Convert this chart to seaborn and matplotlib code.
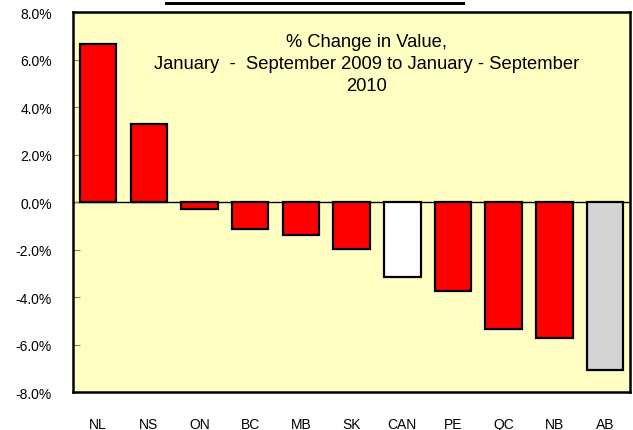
import matplotlib
matplotlib.use("Agg")
import matplotlib.pyplot as plt
import seaborn as sns
import pandas as pd
from matplotlib.patches import Rectangle

provinces = ["NL", "NS", "ON", "BC", "MB", "SK", "CAN", "PE", "QC", "NB", "AB"]
pct_change = [6.65, 3.30, -0.29, -1.12, -1.38, -1.95, -3.15, -3.72, -5.33, -5.70, -7.06]
bar_colors = ["#FF0000", "#FF0000", "#FF0000", "#FF0000", "#FF0000", "#FF0000",
              "#FFFFFF", "#FF0000", "#FF0000", "#FF0000", "#D4D4D4"]
y_ticks = [-8, -6, -4, -2, 0, 2, 4, 6, 8]
y_tick_labels = ["-8.0%", "-6.0%", "-4.0%", "-2.0%", "0.0%", "2.0%", "4.0%", "6.0%", "8.0%"]
chart_text = "% Change in Value,\nJanuary  -  September 2009 to January - September\n2010"

sns.set_theme(style="white")
plt.rcParams["font.family"] = ["Liberation Sans", "DejaVu Sans"]

df = pd.DataFrame({"prov": provinces, "val": pct_change})

fig = plt.figure(figsize=(6.33, 4.31), dpi=100)
ax = fig.add_axes([72.7 / 633, (431 - 393.3) / 431, (630.5 - 72.7) / 633, (393.3 - 13.3) / 431])
ax.set_facecolor("#FFFFC4")

sns.barplot(data=df, x="prov", y="val", hue="prov", palette=bar_colors, legend=False,
            width=0.72, edgecolor="black", linewidth=1.6, saturation=1, ax=ax)

ax.axhline(0, color="black", lw=1.0, zorder=0.5)
ax.set_ylim(-8, 8)
ax.set_xlim(-0.5, len(provinces) - 0.5)
ax.set_yticks(y_ticks)
ax.set_yticklabels(y_tick_labels)
ax.set_xlabel("")
ax.set_ylabel("")
ax.tick_params(axis="y", direction="in", length=5, width=0.8, color="#808080",
               pad=15, labelsize=10, labelcolor="black", left=True)
ax.tick_params(axis="x", length=0, pad=18, labelsize=10, labelcolor="black")
for s in ax.spines.values():
    s.set_visible(True)
    s.set_color("black")
    s.set_linewidth(1.8)

ax.text(0.5276, 0.866, chart_text, transform=ax.transAxes, ha="center", va="center",
        multialignment="center", fontsize=13.2, linespacing=1.38, color="black")

fig.add_artist(Rectangle((165 / 633, (431 - 6) / 431), 300 / 633, 3 / 431,
                         transform=fig.transFigure, color="black", lw=0))

fig.savefig("out.png", dpi=100)
